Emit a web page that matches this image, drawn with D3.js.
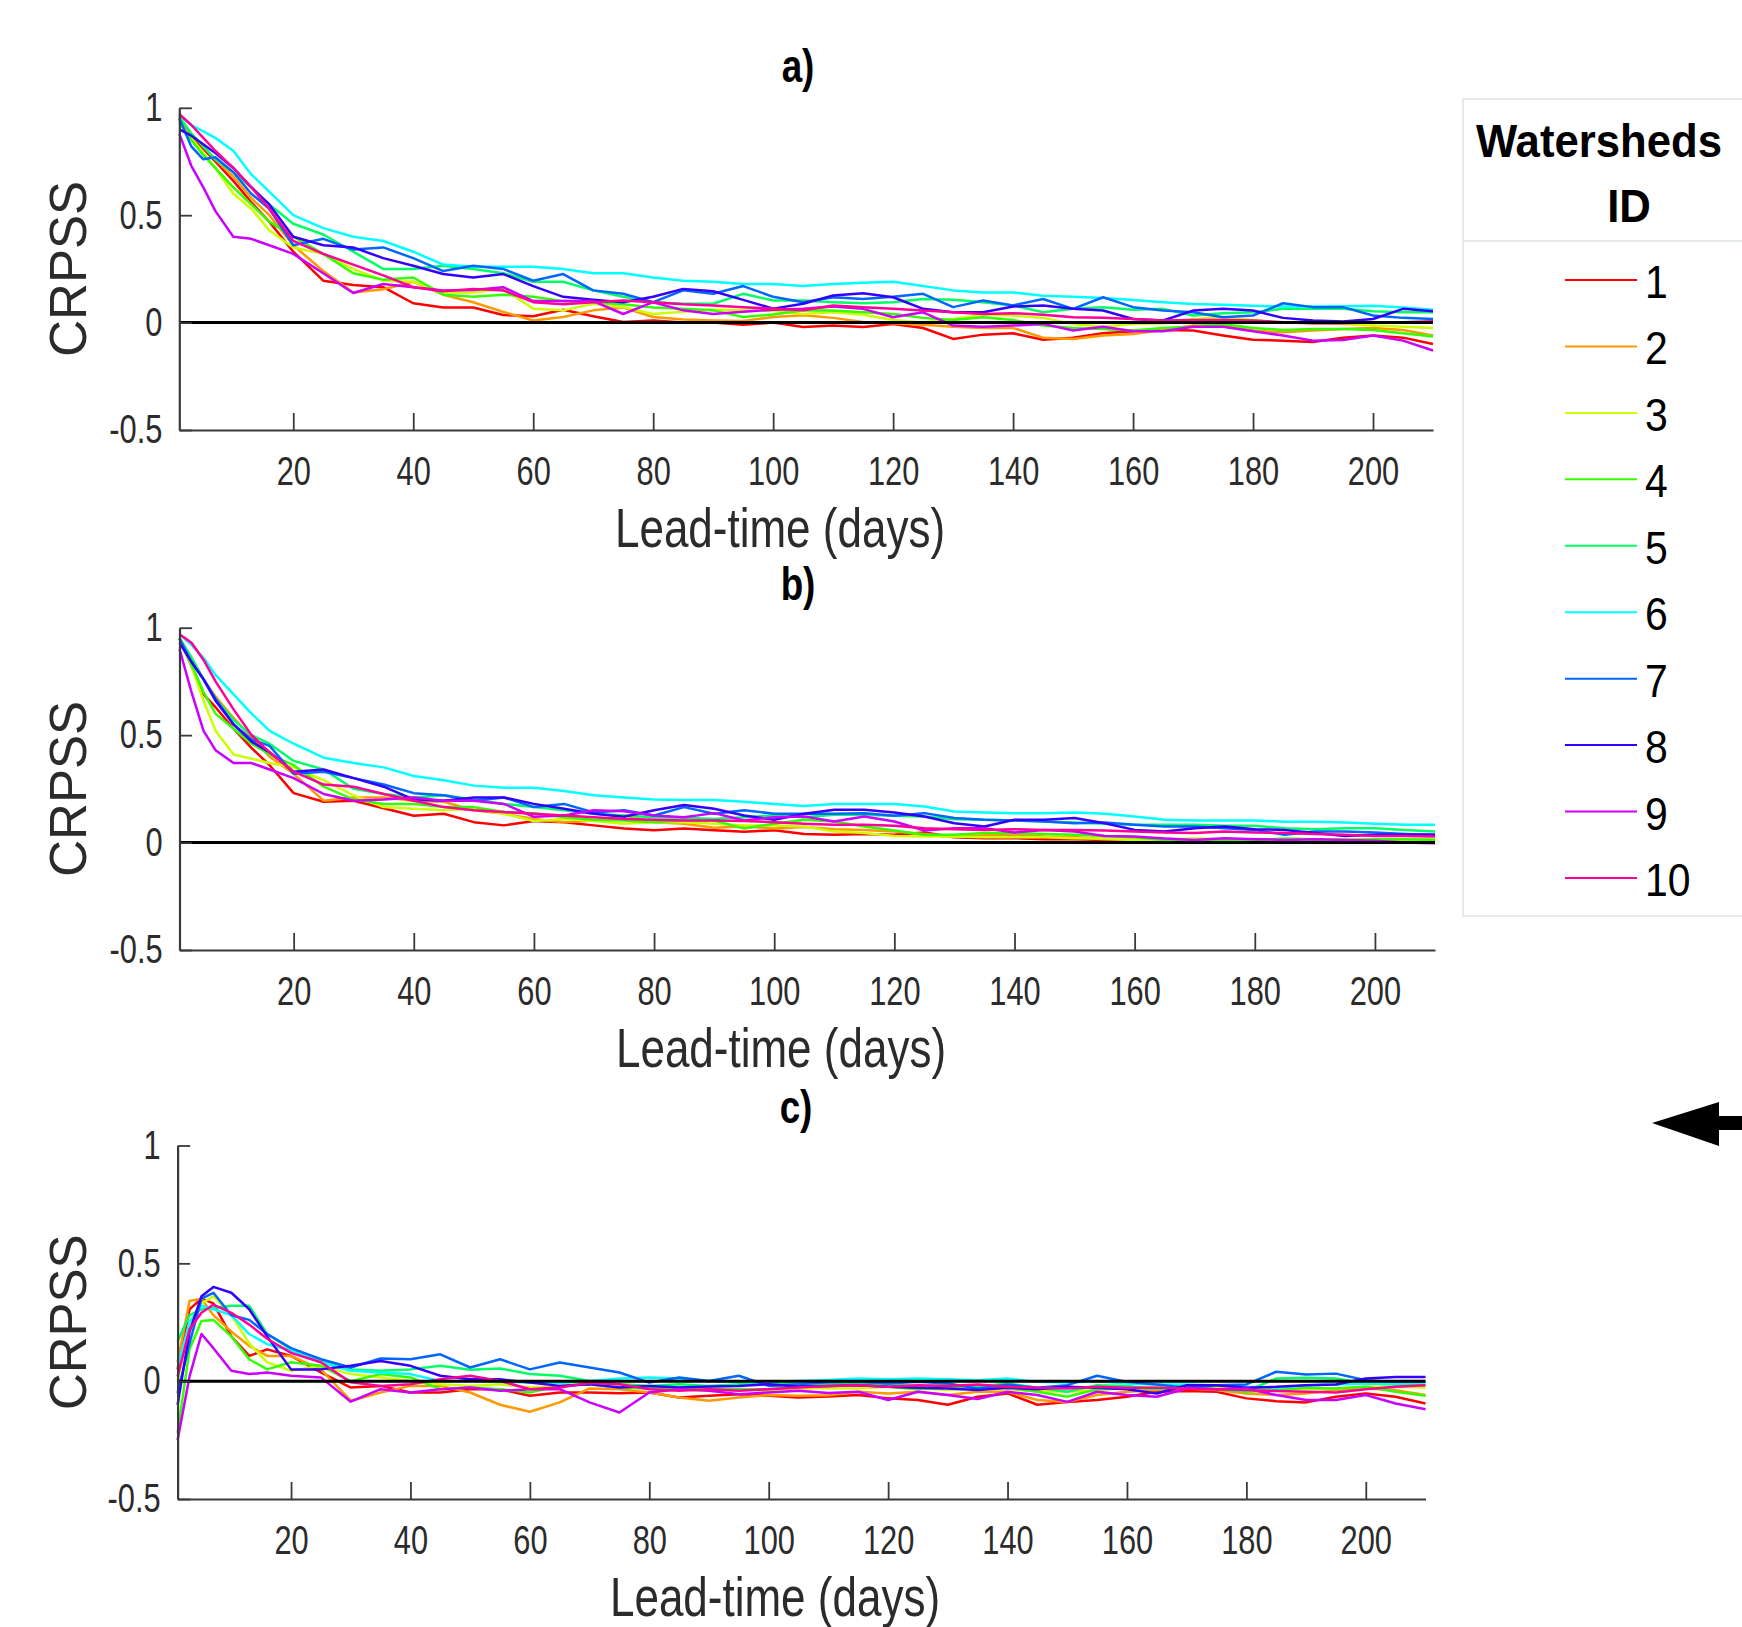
<!DOCTYPE html>
<html lang='en'>
<head>
<meta charset="utf-8">
<title>CRPSS by lead-time</title>
<script src="https://d3js.org/d3.v7.min.js"></script>
<style>
    body { margin: 0; background: white; }
    svg { display: block; background: white; }
    text { font-family: "Liberation Sans", Arial, Helvetica, sans-serif; }
</style>
</head>
<body>
<svg id="chart" width="1742" height="1627"></svg>
<script>
// lead-time samples (days)
const days = [1,3,5,7,10,13,16,20,25,30,35,40,45,50,55,60,65,70,75,80,85,90,95,100,105,
              110,115,120,125,130,135,140,145,150,155,160,165,170,175,180,185,190,195,200,205,210];
const watersheds = ['1','2','3','4','5','6','7','8','9','10'];
const colors = ['#ff0000','#ff9900','#ccff00','#33ff00','#00ff66','#00ffff','#0066ff','#3300ff','#cc00ff','#ff0099'];
const xTicks = [20,40,60,80,100,120,140,160,180,200];
const yTicks = [-0.5,0,0.5,1];
const panelTitles = ['a)','b)','c)'];

// CRPSS, panel a (one row per watershed)
const panelA = [
 [0.95,0.87,0.81,0.75,0.66,0.56,0.47,0.33,0.195,0.175,0.165,0.09,0.07,0.07,0.035,0.03,0.06,0.03,0.003,0.01,0.0,0.0,-0.01,0.0,-0.02,-0.014,-0.02,-0.006,-0.025,-0.076,-0.056,-0.05,-0.08,-0.07,-0.05,-0.04,-0.035,-0.037,-0.06,-0.08,-0.084,-0.09,-0.07,-0.06,-0.07,-0.1],
 [0.95,0.88,0.82,0.76,0.68,0.58,0.50,0.36,0.24,0.14,0.155,0.19,0.13,0.095,0.05,0.01,0.026,0.057,0.07,0.026,0.014,0.01,0.008,0.026,0.034,0.022,0.003,-0.003,-0.01,-0.019,-0.025,-0.025,-0.07,-0.076,-0.06,-0.053,-0.034,-0.014,-0.014,-0.037,-0.045,-0.037,-0.03,-0.025,-0.034,-0.06],
 [0.93,0.86,0.79,0.72,0.60,0.53,0.43,0.35,0.32,0.25,0.195,0.19,0.14,0.14,0.157,0.065,0.057,0.088,0.072,0.04,0.05,0.06,0.057,0.054,0.04,0.048,0.037,0.012,0.0,0.017,0.037,0.033,0.022,-0.006,-0.019,-0.006,-0.003,0.017,0.025,0.012,0.0,-0.003,-0.006,-0.014,-0.019,-0.025],
 [0.93,0.85,0.78,0.72,0.63,0.55,0.47,0.40,0.32,0.23,0.2,0.21,0.13,0.12,0.13,0.12,0.1,0.095,0.085,0.07,0.065,0.057,0.026,0.038,0.057,0.056,0.048,0.04,0.022,0.012,0.025,0.012,-0.014,-0.025,-0.03,-0.037,-0.025,-0.019,-0.006,-0.025,-0.034,-0.03,-0.03,-0.034,-0.05,-0.065],
 [0.96,0.88,0.82,0.76,0.70,0.63,0.55,0.46,0.41,0.33,0.25,0.25,0.265,0.25,0.23,0.19,0.19,0.15,0.12,0.095,0.088,0.088,0.134,0.103,0.103,0.095,0.09,0.095,0.11,0.106,0.095,0.08,0.048,0.064,0.072,0.06,0.064,0.033,0.044,0.048,0.064,0.064,0.064,0.053,0.048,0.048],
 [0.97,0.92,0.89,0.86,0.80,0.69,0.61,0.50,0.44,0.40,0.38,0.33,0.27,0.26,0.26,0.26,0.25,0.23,0.23,0.21,0.195,0.19,0.18,0.18,0.17,0.18,0.185,0.19,0.17,0.15,0.14,0.14,0.125,0.12,0.115,0.105,0.095,0.087,0.083,0.078,0.075,0.075,0.076,0.078,0.07,0.06],
 [0.95,0.82,0.76,0.77,0.70,0.60,0.53,0.36,0.39,0.34,0.35,0.30,0.24,0.265,0.25,0.195,0.226,0.15,0.134,0.095,0.15,0.134,0.17,0.12,0.095,0.118,0.11,0.12,0.134,0.072,0.103,0.08,0.11,0.064,0.118,0.072,0.056,0.048,0.025,0.033,0.09,0.072,0.072,0.033,0.022,0.017],
 [0.90,0.87,0.83,0.79,0.72,0.63,0.55,0.40,0.36,0.35,0.30,0.265,0.226,0.21,0.226,0.17,0.12,0.106,0.095,0.12,0.157,0.146,0.106,0.065,0.088,0.126,0.137,0.118,0.064,0.048,0.048,0.075,0.08,0.064,0.056,0.017,0.01,0.056,0.064,0.056,0.022,0.01,0.005,0.017,0.064,0.053],
 [0.88,0.73,0.63,0.52,0.40,0.39,0.36,0.32,0.23,0.138,0.18,0.165,0.15,0.152,0.165,0.10,0.10,0.10,0.04,0.095,0.057,0.04,0.05,0.06,0.065,0.075,0.064,0.025,0.048,-0.014,-0.019,-0.014,-0.006,-0.037,-0.019,-0.04,-0.04,-0.019,-0.019,-0.04,-0.06,-0.084,-0.081,-0.06,-0.084,-0.13],
 [0.97,0.92,0.86,0.80,0.72,0.63,0.53,0.38,0.32,0.27,0.22,0.165,0.146,0.157,0.15,0.095,0.085,0.095,0.103,0.095,0.085,0.08,0.072,0.065,0.057,0.08,0.072,0.064,0.056,0.048,0.04,0.044,0.037,0.025,0.022,0.017,0.01,0.012,0.012,0.01,0.002,-0.003,-0.003,0.002,0.002,0.006]
];

// CRPSS, panel b
const panelB = [
 [0.95,0.82,0.69,0.63,0.53,0.44,0.36,0.23,0.19,0.195,0.16,0.125,0.134,0.095,0.08,0.1,0.095,0.08,0.065,0.057,0.065,0.057,0.05,0.057,0.04,0.036,0.04,0.036,0.047,0.025,0.02,0.02,0.016,0.016,0.012,0.012,0.009,0.009,0.008,0.008,0.008,0.005,0.005,0.003,0.002,0.0],
 [0.95,0.86,0.76,0.68,0.58,0.49,0.40,0.32,0.195,0.21,0.21,0.195,0.19,0.15,0.134,0.11,0.095,0.103,0.126,0.095,0.088,0.069,0.075,0.065,0.072,0.062,0.059,0.051,0.04,0.025,0.034,0.036,0.028,0.025,0.016,0.012,0.012,0.008,0.012,0.016,0.016,0.012,0.016,0.012,0.016,0.016],
 [0.95,0.82,0.66,0.52,0.41,0.39,0.37,0.35,0.29,0.22,0.165,0.157,0.15,0.157,0.134,0.10,0.11,0.10,0.088,0.095,0.095,0.088,0.08,0.08,0.075,0.051,0.044,0.031,0.028,0.028,0.025,0.025,0.025,0.02,0.019,0.012,0.016,0.019,0.016,0.012,0.012,0.012,0.016,0.012,0.016,0.016],
 [0.95,0.83,0.70,0.60,0.53,0.46,0.41,0.36,0.26,0.20,0.18,0.18,0.165,0.165,0.142,0.137,0.118,0.106,0.103,0.095,0.103,0.103,0.065,0.088,0.106,0.098,0.075,0.056,0.036,0.036,0.044,0.044,0.04,0.036,0.031,0.025,0.012,0.012,0.009,0.012,0.019,0.016,0.012,0.016,0.016,0.012],
 [0.95,0.86,0.76,0.67,0.57,0.50,0.46,0.38,0.34,0.25,0.226,0.21,0.22,0.20,0.18,0.165,0.15,0.134,0.126,0.118,0.115,0.11,0.118,0.126,0.118,0.13,0.13,0.125,0.121,0.109,0.106,0.103,0.098,0.093,0.087,0.083,0.083,0.083,0.078,0.078,0.067,0.062,0.067,0.067,0.059,0.051],
 [0.97,0.92,0.86,0.78,0.69,0.60,0.52,0.46,0.395,0.37,0.35,0.31,0.29,0.265,0.255,0.255,0.24,0.22,0.21,0.20,0.198,0.198,0.19,0.18,0.17,0.179,0.179,0.179,0.168,0.145,0.14,0.137,0.137,0.14,0.134,0.121,0.106,0.103,0.103,0.103,0.097,0.097,0.093,0.087,0.083,0.083],
 [0.95,0.84,0.76,0.67,0.55,0.48,0.45,0.32,0.33,0.30,0.27,0.23,0.22,0.195,0.21,0.165,0.18,0.14,0.15,0.126,0.165,0.134,0.15,0.134,0.134,0.134,0.137,0.125,0.137,0.114,0.106,0.103,0.098,0.09,0.093,0.083,0.075,0.075,0.067,0.059,0.036,0.051,0.051,0.047,0.04,0.036],
 [0.93,0.84,0.76,0.66,0.55,0.47,0.42,0.33,0.34,0.30,0.26,0.20,0.195,0.21,0.21,0.18,0.157,0.134,0.12,0.15,0.175,0.157,0.126,0.106,0.134,0.153,0.153,0.14,0.121,0.09,0.075,0.106,0.106,0.114,0.09,0.059,0.051,0.067,0.075,0.062,0.059,0.044,0.031,0.036,0.036,0.036],
 [0.90,0.70,0.52,0.43,0.37,0.37,0.34,0.30,0.226,0.195,0.2,0.21,0.195,0.195,0.18,0.12,0.126,0.15,0.146,0.126,0.118,0.137,0.103,0.118,0.121,0.098,0.121,0.098,0.056,0.067,0.067,0.047,0.059,0.051,0.031,0.028,0.019,0.012,0.02,0.016,0.012,0.016,0.012,0.009,0.0,-0.003],
 [0.97,0.93,0.85,0.75,0.62,0.50,0.42,0.33,0.27,0.26,0.226,0.195,0.165,0.15,0.142,0.134,0.126,0.118,0.11,0.106,0.103,0.103,0.1,0.095,0.088,0.083,0.083,0.078,0.067,0.062,0.059,0.062,0.059,0.059,0.056,0.051,0.047,0.044,0.051,0.047,0.044,0.04,0.036,0.031,0.031,0.028]
];

// CRPSS, panel c
const panelC = [
 [0.05,0.305,0.35,0.33,0.19,0.107,0.135,0.107,0.037,-0.027,-0.02,-0.048,-0.048,-0.034,-0.034,-0.062,-0.048,-0.048,-0.051,-0.048,-0.069,-0.062,-0.055,-0.062,-0.069,-0.065,-0.059,-0.073,-0.08,-0.1,-0.066,-0.052,-0.1,-0.088,-0.08,-0.066,-0.045,-0.042,-0.045,-0.073,-0.085,-0.09,-0.066,-0.052,-0.066,-0.095],
 [0.08,0.34,0.35,0.28,0.21,0.15,0.107,0.107,0.05,-0.083,-0.048,-0.02,-0.02,-0.048,-0.1,-0.13,-0.09,-0.031,-0.034,-0.048,-0.069,-0.083,-0.069,-0.059,-0.062,-0.06,-0.045,-0.052,-0.045,-0.059,-0.045,-0.045,-0.08,-0.088,-0.059,-0.045,-0.038,-0.031,-0.038,-0.052,-0.059,-0.052,-0.038,-0.031,-0.038,-0.059],
 [0.0,0.25,0.33,0.36,0.28,0.16,0.08,0.044,0.065,0.03,0.016,0.001,-0.013,-0.02,-0.013,-0.027,-0.02,-0.006,-0.013,-0.02,-0.034,-0.041,-0.034,-0.041,-0.031,-0.03,-0.031,-0.024,-0.031,-0.038,-0.031,-0.034,-0.042,-0.045,-0.038,-0.028,-0.024,-0.017,-0.024,-0.031,-0.034,-0.034,-0.031,-0.024,-0.024,-0.028],
 [-0.22,0.135,0.255,0.26,0.19,0.093,0.05,0.08,0.065,0.0,0.03,0.016,-0.034,-0.027,-0.034,-0.048,-0.02,-0.013,-0.027,-0.031,-0.027,-0.031,-0.034,-0.034,-0.02,-0.02,-0.017,-0.024,-0.034,-0.028,-0.017,-0.028,-0.045,-0.066,-0.034,-0.031,-0.031,-0.024,-0.034,-0.045,-0.038,-0.028,-0.031,-0.024,-0.045,-0.062],
 [0.17,0.28,0.305,0.31,0.32,0.32,0.2,0.135,0.093,0.05,0.044,0.05,0.065,0.048,0.054,0.03,0.023,0.001,-0.013,-0.02,-0.013,-0.02,-0.013,-0.006,-0.013,-0.01,-0.01,-0.014,-0.02,-0.017,-0.024,-0.01,-0.028,-0.045,-0.017,-0.02,-0.034,-0.024,-0.034,-0.042,0.011,0.014,0.011,-0.01,-0.014,-0.017],
 [0.06,0.25,0.32,0.305,0.28,0.2,0.157,0.13,0.08,0.044,0.037,0.03,0.001,0.001,-0.003,-0.006,-0.008,0.001,0.011,0.016,0.011,0.001,-0.003,-0.006,0.001,0.005,0.011,0.008,0.011,0.008,0.004,0.011,-0.003,-0.006,0.0,-0.01,-0.014,-0.014,-0.017,-0.024,-0.028,-0.017,-0.014,-0.01,-0.01,-0.006],
 [-0.05,0.16,0.35,0.375,0.28,0.26,0.2,0.14,0.093,0.058,0.096,0.093,0.114,0.058,0.093,0.05,0.079,0.058,0.037,-0.006,0.016,0.001,0.023,-0.02,-0.013,-0.005,-0.003,-0.01,-0.003,-0.01,-0.031,-0.014,-0.028,-0.017,0.023,-0.003,-0.014,-0.028,-0.017,-0.014,0.04,0.028,0.032,0.004,-0.003,-0.003],
 [-0.1,0.21,0.36,0.4,0.375,0.305,0.19,0.05,0.05,0.065,0.086,0.065,0.023,0.008,0.008,-0.006,-0.02,-0.013,-0.027,-0.02,-0.027,-0.023,-0.02,-0.013,-0.023,-0.02,-0.017,-0.024,-0.028,-0.031,-0.038,-0.028,-0.034,-0.024,-0.028,-0.034,-0.052,-0.017,-0.017,-0.028,-0.024,-0.017,-0.014,0.011,0.018,0.018],
 [-0.25,0.02,0.2,0.14,0.044,0.03,0.037,0.023,0.016,-0.087,-0.034,-0.048,-0.034,-0.027,-0.041,-0.034,-0.034,-0.09,-0.133,-0.048,-0.034,-0.041,-0.055,-0.048,-0.041,-0.05,-0.045,-0.08,-0.045,-0.059,-0.076,-0.045,-0.059,-0.088,-0.045,-0.059,-0.066,-0.031,-0.034,-0.031,-0.059,-0.08,-0.08,-0.059,-0.095,-0.119],
 [0.02,0.22,0.29,0.325,0.29,0.24,0.18,0.12,0.08,-0.005,-0.02,-0.013,0.008,0.023,0.001,-0.034,-0.027,-0.008,-0.013,-0.034,-0.041,-0.034,-0.041,-0.034,-0.027,-0.02,-0.017,-0.024,-0.017,-0.02,-0.014,-0.024,-0.028,-0.031,-0.024,-0.028,-0.028,-0.031,-0.034,-0.038,-0.042,-0.045,-0.048,-0.034,-0.024,-0.017]
];

const svg = d3.select('#chart');
const axisColor = '#3a3a3a';

// plot boxes of the three panels
const layout = [
    {data: panelA, left: 179.3, right: 1433,   top: 107.8,  bottom: 430,  titleX: 798, titleY: 82,   labelX: 780},
    {data: panelB, left: 179.5, right: 1435,   top: 627.7,  bottom: 950,  titleX: 798, titleY: 600,  labelX: 781},
    {data: panelC, left: 177.6, right: 1425.5, top: 1145.5, bottom: 1499, titleX: 796, titleY: 1123, labelX: 775}
];

layout.forEach(function(p, pi) {
    var x = d3.scaleLinear().domain([1, 210]).range([p.left, p.right]);
    var y = d3.scaleLinear().domain([-0.5, 1]).range([p.bottom, p.top]);
    var g = svg.append('g');

    var line = d3.line()
        .x((d, i) => x(days[i]))
        .y(d => y(d));

    g.selectAll('.series')
        .data(p.data)
        .enter()
        .append('path')
        .attr('class', 'series')
        .attr('d', line)
        .attr('fill', 'none')
        .attr('stroke', (d, i) => colors[i])
        .attr('stroke-width', 2.5)
        .attr('stroke-linejoin', 'round');

    // zero reference line
    g.append('line')
        .attr('x1', x(1)).attr('x2', x(210))
        .attr('y1', y(0)).attr('y2', y(0))
        .attr('stroke', 'black')
        .attr('stroke-width', 3);

    // x axis, ticks inside
    var xa = g.append('g')
        .attr('transform', `translate(0,${p.bottom})`)
        .call(d3.axisBottom(x).tickValues(xTicks).tickSizeInner(-17).tickSizeOuter(0).tickPadding(27));
    // y axis, ticks inside
    var ya = g.append('g')
        .attr('transform', `translate(${p.left},0)`)
        .call(d3.axisLeft(y).tickValues(yTicks).tickFormat(d => String(d))
            .tickSizeInner(-12.6).tickSizeOuter(0).tickPadding(22));

    [xa, ya].forEach(function(a) {
        a.attr('font-size', null).attr('font-family', null);
        a.select('.domain').attr('stroke', axisColor).attr('stroke-width', 2.2);
        a.selectAll('.tick line').attr('stroke', axisColor).attr('stroke-width', 1.8);
        a.selectAll('.tick text')
            .attr('fill', '#2b2b2b')
            .style('font-size', '40px')
            .attr('transform', 'scale(0.77,1)');
    });

    // panel title
    svg.append('text')
        .attr('transform', `translate(${p.titleX},${p.titleY}) scale(0.8,1)`)
        .attr('text-anchor', 'middle')
        .style('font-size', '46px')
        .style('font-weight', 'bold')
        .attr('fill', 'black')
        .text(panelTitles[pi]);

    // axis titles
    svg.append('text')
        .attr('transform', `translate(${p.labelX},${p.bottom + 117}) scale(0.8,1)`)
        .attr('text-anchor', 'middle')
        .style('font-size', '55px')
        .attr('fill', '#2b2b2b')
        .text('Lead-time (days)');

    svg.append('text')
        .attr('transform', `translate(86,${(p.top + p.bottom) / 2}) rotate(-90)`)
        .attr('text-anchor', 'middle')
        .style('font-size', '51px')
        .attr('fill', '#2b2b2b')
        .text('CRPSS');
});

// legend
var lg = svg.append('g');
lg.append('rect')
    .attr('x', 1463).attr('y', 99)
    .attr('width', 320).attr('height', 817)
    .attr('fill', 'white')
    .attr('stroke', '#e4eaea')
    .attr('stroke-width', 2);
lg.append('line')
    .attr('x1', 1463).attr('x2', 1742)
    .attr('y1', 241).attr('y2', 241)
    .attr('stroke', '#e4eaea')
    .attr('stroke-width', 2);
lg.append('text')
    .attr('transform', 'translate(1599,157) scale(0.93,1)')
    .attr('text-anchor', 'middle')
    .style('font-size', '47px')
    .style('font-weight', 'bold')
    .text('Watersheds');
lg.append('text')
    .attr('transform', 'translate(1629,222) scale(0.93,1)')
    .attr('text-anchor', 'middle')
    .style('font-size', '47px')
    .style('font-weight', 'bold')
    .text('ID');

var ly = d3.scalePoint().domain(watersheds).range([280, 878]);
var items = lg.selectAll('.item')
    .data(watersheds)
    .enter()
    .append('g')
    .attr('class', 'item')
    .attr('transform', d => `translate(0,${ly(d)})`);
items.append('line')
    .attr('x1', 1565).attr('x2', 1637)
    .attr('stroke', (d, i) => colors[i])
    .attr('stroke-width', 2);
items.append('text')
    .attr('transform', 'translate(1645,18) scale(0.87,1)')
    .style('font-size', '47px')
    .attr('fill', 'black')
    .text(d => d);

// arrow at right edge
svg.append('path')
    .attr('d', 'M1652,1123 L1719,1102 L1719,1116 L1742,1116 L1742,1130 L1719,1130 L1719,1146 Z')
    .attr('fill', 'black');
</script>
</body>
</html>
